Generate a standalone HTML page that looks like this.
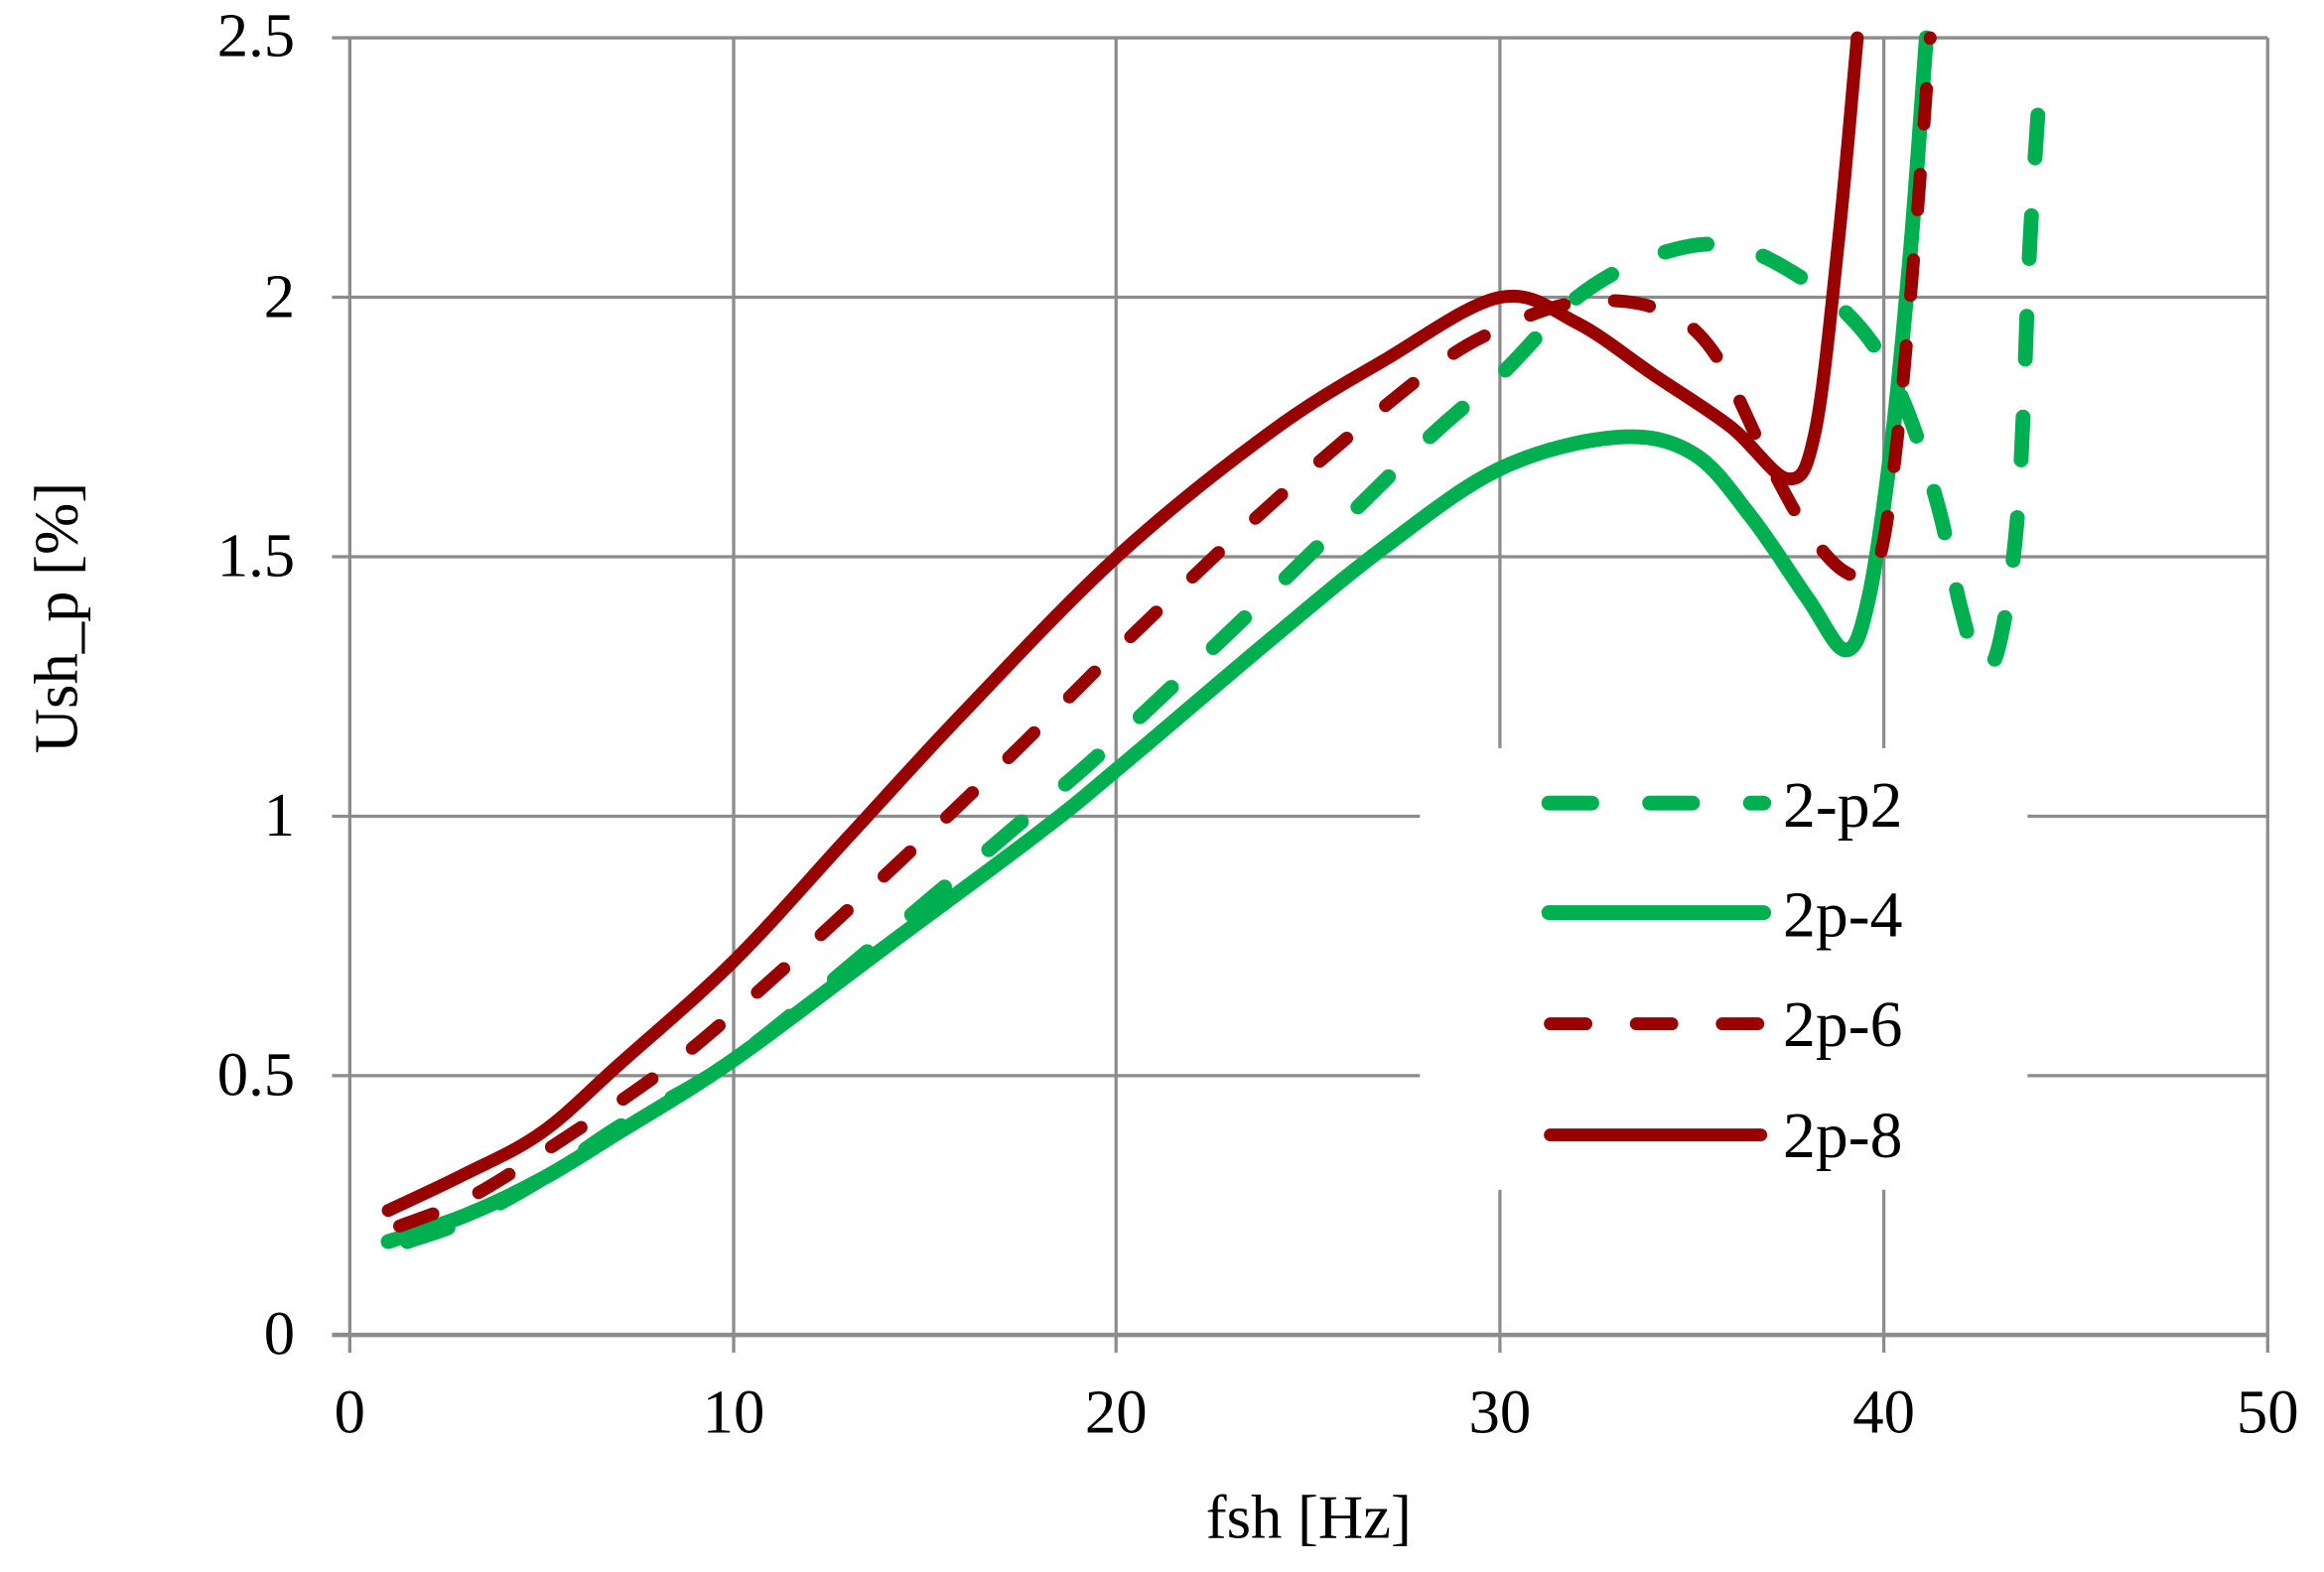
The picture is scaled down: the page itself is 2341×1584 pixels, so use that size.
<!DOCTYPE html>
<html><head><meta charset="utf-8"><style>
html,body{margin:0;padding:0;background:#fff;}
svg{display:block;}
text{font-family:"Liberation Serif",serif;fill:#000;}
</style></head><body>
<svg id="s" width="2341" height="1584" viewBox="0 0 1568 1061" preserveAspectRatio="none" xmlns="http://www.w3.org/2000/svg">
<g stroke="#8c8c8c" stroke-width="2.2">
<line x1="236" y1="25.5" x2="236" y2="913"/>
<line x1="495" y1="25.5" x2="495" y2="913"/>
<line x1="753" y1="25.5" x2="753" y2="913"/>
<line x1="1012" y1="25.5" x2="1012" y2="913"/>
<line x1="1271" y1="25.5" x2="1271" y2="913"/>
<line x1="1530" y1="25.5" x2="1530" y2="913"/>
<line x1="224" y1="25.5" x2="1530" y2="25.5"/>
<line x1="224" y1="200.6" x2="1530" y2="200.6"/>
<line x1="224" y1="375.8" x2="1530" y2="375.8"/>
<line x1="224" y1="550.9" x2="1530" y2="550.9"/>
<line x1="224" y1="726" x2="1530" y2="726"/>
</g>
<line x1="224" y1="901" x2="1530" y2="901" stroke="#8c8c8c" stroke-width="3"/>
<rect x="958" y="505" width="410" height="298" fill="#fff"/>
<g id="series" fill="none" stroke-linejoin="round" stroke-linecap="round"></g>
<g font-size="42" text-anchor="end">
<text x="199" y="38">2.5</text>
<text x="199" y="214">2</text>
<text x="199" y="389">1.5</text>
<text x="199" y="564">1</text>
<text x="199" y="739">0.5</text>
<text x="199" y="914">0</text>
</g>
<g font-size="42" text-anchor="middle">
<text x="236" y="967">0</text>
<text x="495" y="967">10</text>
<text x="753" y="967">20</text>
<text x="1012" y="967">30</text>
<text x="1271" y="967">40</text>
<text x="1530" y="967">50</text>
<text x="883" y="1038">fsh [Hz]</text>
<text transform="translate(52,417) rotate(-90)">Ush_p  [%]</text>
</g>
<g stroke-linecap="round">
<line x1="1045" y1="542" x2="1190" y2="542" stroke="#00b050" stroke-width="10" stroke-dasharray="29,39"/>
<line x1="1045" y1="616" x2="1190" y2="616" stroke="#00b050" stroke-width="10"/>
<line x1="1046" y1="691" x2="1188" y2="691" stroke="#990000" stroke-width="8.7" stroke-dasharray="24,34"/>
<line x1="1046" y1="766" x2="1188" y2="766" stroke="#990000" stroke-width="8.7"/>
</g>
<g font-size="44">
<text x="1203" y="558">2-p2</text>
<text x="1203" y="632">2p-4</text>
<text x="1203" y="706">2p-6</text>
<text x="1203" y="781">2p-8</text>
</g>
</svg>
<script>
function X(v){return 236+v*25.88;}
function Y(v){return 901-v*350.2;}
function path(d){
 var p=d.map(function(a){return [X(a[0]),Y(a[1])];});
 var s="M"+p[0][0].toFixed(1)+","+p[0][1].toFixed(1);
 for(var i=0;i<p.length-1;i++){
  var p0=p[i-1]||p[i],p1=p[i],p2=p[i+1],p3=p[i+2]||p2;
  var c1=[p1[0]+(p2[0]-p0[0])/6,p1[1]+(p2[1]-p0[1])/6];
  var c2=[p2[0]-(p3[0]-p1[0])/6,p2[1]-(p3[1]-p1[1])/6];
  s+="C"+c1[0].toFixed(1)+","+c1[1].toFixed(1)+" "+c2[0].toFixed(1)+","+c2[1].toFixed(1)+" "+p2[0].toFixed(1)+","+p2[1].toFixed(1);
 }
 return s;
}
var S=[
 {c:"#00b050",w:10,da:"29,39",d:[[1.5,0.18],[3,0.22],[5,0.3],[7,0.4],[10,0.53],[14,0.77],[18,1.02],[20,1.15],[24,1.43],[28,1.72],[30,1.85],[32,2.0],[34,2.08],[36,2.1],[38,2.03],[39.5,1.93],[40.5,1.8],[41.4,1.6],[42,1.4],[42.5,1.29],[43,1.33],[43.5,1.6],[43.8,2.1],[44.1,2.45]]},
 {c:"#00b050",w:10,da:"",d:[[1,0.18],[3,0.23],[5,0.3],[7,0.39],[10,0.53],[14,0.75],[18,0.97],[20,1.09],[24,1.34],[27,1.52],[30,1.67],[33,1.73],[35,1.7],[36.5,1.58],[38,1.42],[39,1.32],[39.6,1.42],[40.2,1.72],[40.7,2.1],[41.1,2.5]]},
 {c:"#990000",w:8.7,da:"24,34",d:[[1.3,0.21],[3,0.26],[5,0.35],[8,0.5],[10,0.62],[13,0.82],[17,1.1],[20,1.32],[24,1.6],[28,1.85],[30,1.94],[32,1.99],[34,1.98],[35.5,1.9],[37,1.68],[38,1.55],[39,1.47],[39.8,1.48],[40.3,1.7],[40.8,2.1],[41.2,2.5]]},
 {c:"#990000",w:8.7,da:"",d:[[1,0.24],[3,0.31],[5,0.39],[7,0.52],[10,0.72],[13,0.96],[16,1.2],[20,1.5],[24,1.74],[27,1.88],[30,2.0],[32,1.95],[34,1.85],[36,1.75],[37.5,1.65],[38.2,1.74],[38.8,2.1],[39.3,2.5]]}
];
var g=document.getElementById("series");
S.forEach(function(o){
 var e=document.createElementNS("http://www.w3.org/2000/svg","path");
 e.setAttribute("d",path(o.d));e.setAttribute("stroke",o.c);e.setAttribute("stroke-width",o.w);
 if(o.da)e.setAttribute("stroke-dasharray",o.da);
 g.appendChild(e);
});
</script>
</body></html>
